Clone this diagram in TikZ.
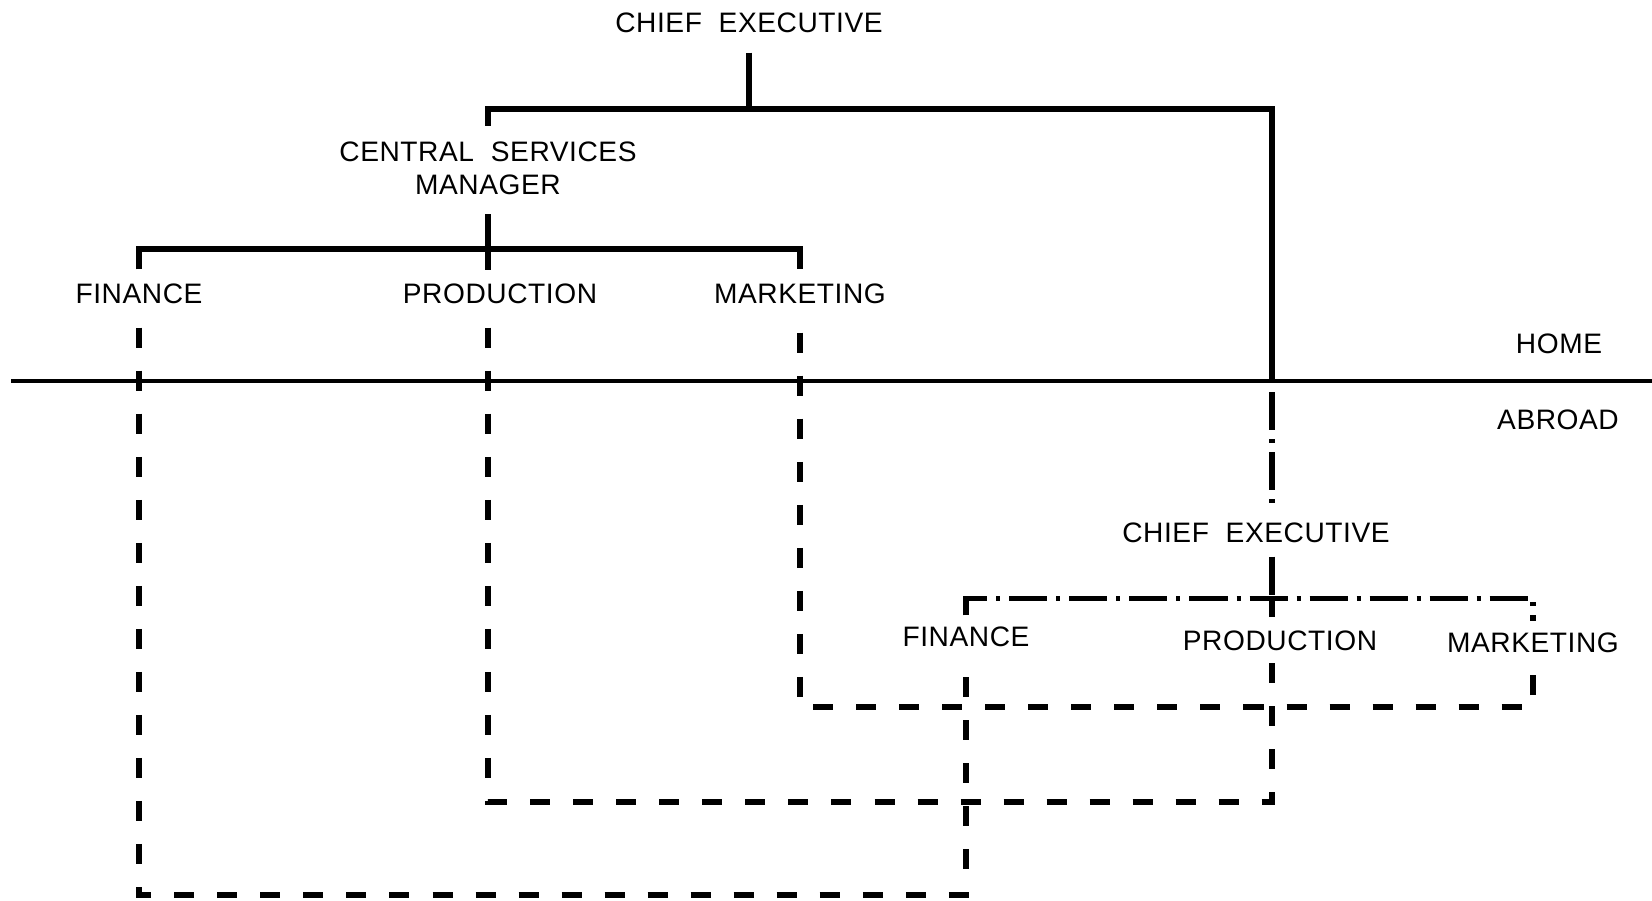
\documentclass[tikz,border=0pt]{standalone}
\usepackage{fontspec}
\setmainfont{Liberation Sans}[WordSpace=2.0, LetterSpace=2]
\usetikzlibrary{positioning}

\begin{document}
\begin{tikzpicture}[x=0.01cm, y=-0.01cm,
  lbl/.style={inner sep=0pt, font=\fontsize{8pt}{9.4pt}\selectfont, align=center},
  orgline/.style={line width=1.7pt},
  linkline/.style={line width=1.6pt, dash pattern=on 2mm off 2.3mm},
  abroadline/.style={line width=1.6pt, dash pattern=on 3.8mm off 0.9mm on 0.4mm off 0.9mm}]
\useasboundingbox (0,0) rectangle (1652,900);

% home company
\node[lbl] (ceo) at (749,23) {CHIEF EXECUTIVE};
\node[lbl] (csm) at (488,168) {CENTRAL SERVICES\\MANAGER};
\node[lbl] (fin) at (139,294) {FINANCE};
\node[lbl] (prod) at (500,294) {PRODUCTION};
\node[lbl] (mkt) at (800,294) {MARKETING};

% border
\coordinate (west) at (11,381);
\coordinate (east) at (1652,381);
\coordinate (border) at (1272,381);
\draw[line width=1.1pt] (west) -- (east);
\node[lbl] (home) at (1559,344) {HOME};
\node[lbl] (abroad) at (1558,420) {ABROAD};

\draw[orgline] ([yshift=-1.9mm]ceo.south) -- ++(0,56) coordinate (topbar);
\draw[orgline] ([yshift=1.5mm]csm.north) |- (topbar) -| (border);
\draw[orgline] ([yshift=-1.9mm]csm.south) -- ++(0,35) coordinate (midbar);
\draw[orgline] ([yshift=1.4mm]fin.north) |- (midbar) -| ([yshift=1.4mm]mkt.north);
\draw[orgline] (midbar) -- ++(0,21);

% subsidiary
\node[lbl] (ceoab) at (1256,533) {CHIEF EXECUTIVE};
\node[lbl] (finab) at (966,637) {FINANCE};
\node[lbl] (prodab) at (1280,641) {PRODUCTION};
\node[lbl] (mktab) at (1533,643) {MARKETING};

\draw[abroadline] ([yshift=-1.1mm]border) -- ([yshift=1.6mm]border |- ceoab.north);
\coordinate (ceoablow) at (border |- ceoab.south);
\draw[abroadline] ([yshift=-1.3mm]ceoablow) -- ++(0,42) coordinate (abbar);
\draw[abroadline] ([yshift=1.1mm]finab.north) |- (abbar) -| ([yshift=1.1mm]mktab.north);
\draw[abroadline] (abbar) -- ++(0,18);

% functional links home -> abroad
\coordinate (prodlink) at (prod.south -| midbar);
\coordinate (prodabtop) at (prodab.south -| border);
\draw[linkline] ([yshift=-2.3mm]fin.south) -- ++(0,567) -| ([yshift=-1.5mm]finab.south);
\draw[linkline] ([yshift=-2.3mm]prodlink) -- ++(0,474) -| ([yshift=-1.0mm]prodabtop);
\draw[linkline] ([yshift=-2.8mm]mkt.south) -- ++(0,374) -| ([yshift=-1.2mm]mktab.south);
\end{tikzpicture}
\end{document}
